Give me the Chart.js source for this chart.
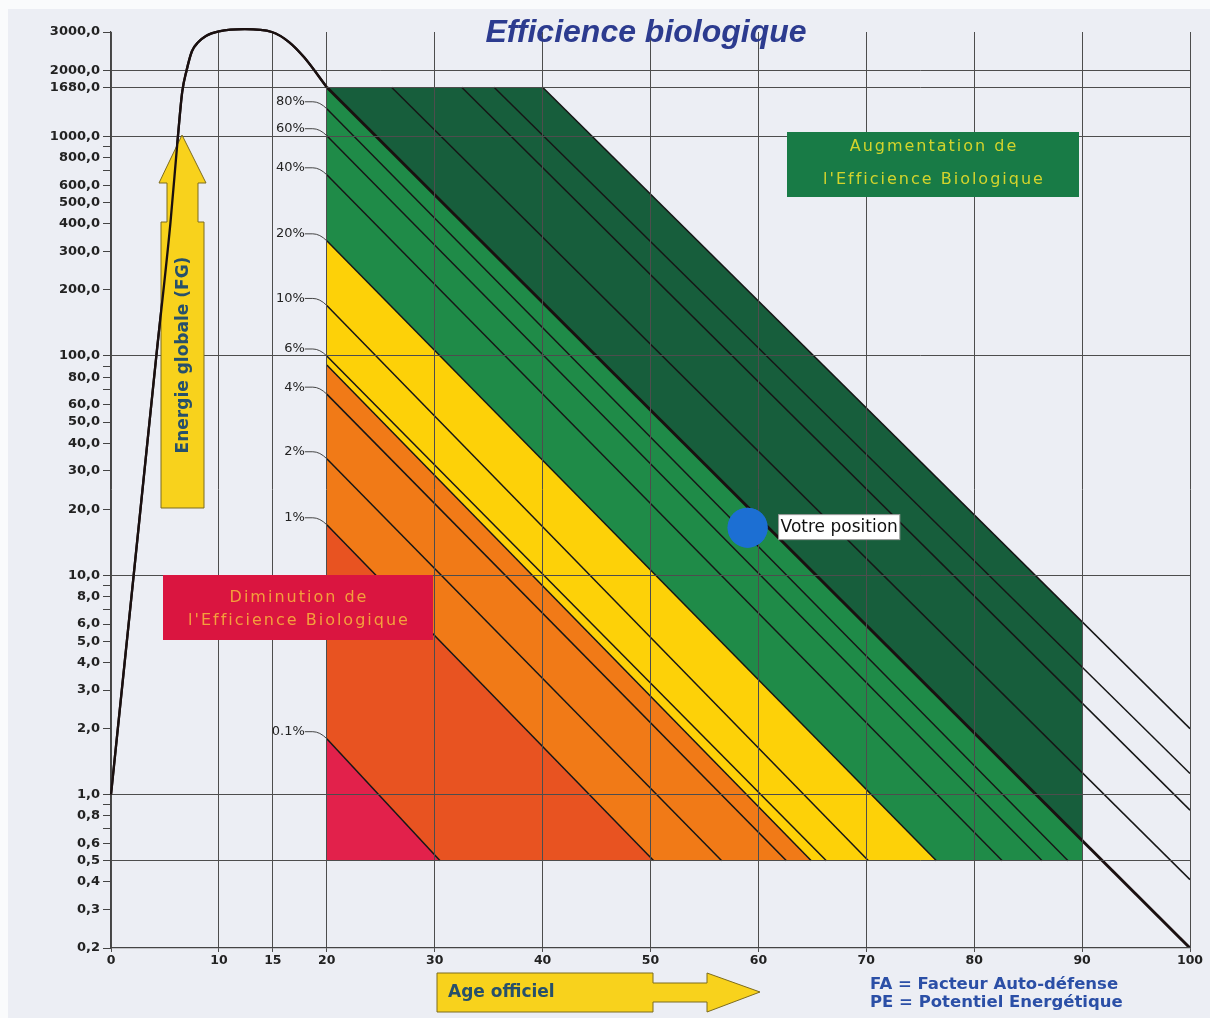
<!DOCTYPE html>
<html lang="fr">
<head>
    <meta charset="UTF-8">
    <title>Efficience biologique</title>
    <script src="https://cdn.jsdelivr.net/npm/chart.js@4"></script>
    <style>
        html, body { margin: 0; padding: 0; background: #ffffff; }
        .chart-container { position: relative; width: 1210px; height: 1018px; }
    </style>
</head>
<body>
<div class="chart-container">
    <canvas id="efficienceChart"></canvas>
</div>
<script>
// --- Axes ---
const xTicks = [0, 10, 15, 20, 30, 40, 50, 60, 70, 80, 90, 100];
const yTickLabels = [0.2, 0.3, 0.4, 0.5, 0.6, 0.8, 1, 2, 3, 4, 5, 6, 8, 10, 20, 30, 40, 50, 60, 80,
                     100, 200, 300, 400, 500, 600, 800, 1000, 1680, 2000, 3000];
const yMinorTicks = [0.7, 0.9, 7, 9, 70, 90, 700, 900];
const yGridValues = [0.5, 1, 10, 100, 1000, 1680, 2000];

// --- Courbe d'énergie globale (âge -> énergie) ---
const curveAges   = [0, 2.1, 4.2, 5.5, 6.2, 6.6, 7.0, 7.5, 8.1, 8.8, 10.0, 12.4, 14.9, 16.5, 17.9, 20];
const curveValues = [1, 10, 100, 400, 1000, 1600, 2000, 2450, 2700, 2880, 3020, 3090, 3000, 2700, 2300, 1680];
const declineAges   = [20, 100];
const declineValues = [1680, 0.2];

// --- Droites au-dessus de la courbe (partent de 1680, finissent à 100 ans) ---
const upperStartAges  = [26, 32.5, 35.5, 40];
const upperEndValues  = [0.41, 0.85, 1.25, 2.0];

// --- Droites des pourcentages (valeur à 20 ans, âge où elles atteignent 0,5) ---
const pctLabels      = ['80%', '60%', '40%', '20%', '10%', '6%', '4%', '2%', '1%', '0.1%'];
const pctStartValues = [1340, 1010, 670, 335, 170, 100, 67, 34, 17, 1.8];
const pctEndAges     = [88.7, 86.3, 82.6, 76.5, 70.2, 66.3, 62.6, 56.6, 50.3, 30.5];

// limite jaune / orange (sans étiquette)
const limitStartValue = 91;
const limitEndAge = 64.9;

// --- Zones colorées (polygones âge / énergie) ---
const zoneNames = ['vert foncé', 'vert', 'jaune', 'orange', 'rouge orangé', 'rouge'];
const zoneColors = ['#175e3c', '#1f8b48', '#fdd108', '#f17a17', '#e85321', '#e2214b'];
const zonePolygons = [
    [[20, 1680], [40, 1680], [90, 6.15], [90, 0.62], [20, 1680]],
    [[20, 1680], [90, 0.62], [90, 0.5], [76.5, 0.5], [20, 335], [20, 1680]],
    [[20, 335], [76.5, 0.5], [64.9, 0.5], [20, 91], [20, 335]],
    [[20, 91], [64.9, 0.5], [50.3, 0.5], [20, 17], [20, 91]],
    [[20, 17], [50.3, 0.5], [30.5, 0.5], [20, 1.8], [20, 17]],
    [[20, 1.8], [30.5, 0.5], [20, 0.5], [20, 1.8]]
];

// --- Position ---
const positionAge = 59;
const positionValue = 16.5;

// --- Construction des datasets ---
const toPoints = (xs, ys) => xs.map((x, i) => ({ x: x, y: ys[i] }));

const datasets = [];

zonePolygons.forEach((poly, i) => {
    datasets.push({
        label: zoneNames[i],
        data: poly.map(p => ({ x: p[0], y: p[1] })),
        fill: 'shape',
        backgroundColor: zoneColors[i],
        borderColor: 'rgba(0,0,0,0)',
        borderWidth: 1,
        pointRadius: 0,
        tension: 0,
        order: 5
    });
});

const thinLine = (pts) => ({
    data: pts,
    borderColor: '#161616',
    borderWidth: 1.5,
    pointRadius: 0,
    fill: false,
    tension: 0,
    order: 3
});

upperStartAges.forEach((a, i) => {
    datasets.push(thinLine([{ x: a, y: 1680 }, { x: 100, y: upperEndValues[i] }]));
});
pctStartValues.forEach((v, i) => {
    datasets.push(thinLine([{ x: 20, y: v }, { x: pctEndAges[i], y: 0.5 }]));
});
datasets.push(thinLine([{ x: 20, y: limitStartValue }, { x: limitEndAge, y: 0.5 }]));

const curveIndex = datasets.length;
datasets.push({
    data: toPoints(curveAges, curveValues),
    borderColor: '#1a1010',
    borderWidth: 2.3,
    pointRadius: 0,
    fill: false,
    cubicInterpolationMode: 'monotone',
    clip: false,
    order: 2
});
datasets.push({
    data: toPoints(declineAges, declineValues),
    borderColor: '#1a1010',
    borderWidth: 3,
    pointRadius: 0,
    fill: false,
    tension: 0,
    order: 2
});

const dotIndex = datasets.length;
datasets.push({
    data: [{ x: positionAge, y: positionValue }],
    showLine: false,
    pointRadius: 20,
    pointBackgroundColor: '#1c6fd3',
    pointBorderWidth: 0,
    order: 1
});

// --- Décor : flèches, cadres, étiquettes ---
const decorPlugin = {
    id: 'decor',
    beforeDraw(chart) {
        const { ctx, width, height } = chart;
        ctx.save();
        ctx.fillStyle = '#fafbfc';
        ctx.fillRect(0, 0, width, height);
        ctx.fillStyle = '#eceef4';
        ctx.fillRect(8, 9, width - 8, height - 9);
        ctx.restore();
    },
    afterDraw(chart) {
        const { ctx } = chart;
        const xs = chart.scales.x, ys = chart.scales.y;
        ctx.save();

        // flèche verticale "Energie globale (FG)"
        ctx.beginPath();
        ctx.moveTo(182, 135);
        ctx.lineTo(206, 183); ctx.lineTo(198, 183); ctx.lineTo(198, 222);
        ctx.lineTo(204, 222); ctx.lineTo(204, 508); ctx.lineTo(161, 508);
        ctx.lineTo(161, 222); ctx.lineTo(167, 222); ctx.lineTo(167, 183);
        ctx.lineTo(159, 183);
        ctx.closePath();
        ctx.fillStyle = '#f8d21c';
        ctx.fill();
        ctx.strokeStyle = '#7d6c1e';
        ctx.lineWidth = 1;
        ctx.stroke();

        ctx.save();
        ctx.translate(184, 355);
        ctx.rotate(-Math.PI / 2);
        ctx.font = 'bold 17px "DejaVu Sans", sans-serif';
        ctx.fillStyle = '#27506b';
        ctx.textAlign = 'center';
        ctx.textBaseline = 'middle';
        ctx.fillText('Energie globale (FG)', 0, 0);
        ctx.restore();

        // flèche horizontale "Age officiel"
        ctx.beginPath();
        ctx.moveTo(437, 973); ctx.lineTo(653, 973); ctx.lineTo(653, 983);
        ctx.lineTo(707, 983); ctx.lineTo(707, 973); ctx.lineTo(760, 992);
        ctx.lineTo(707, 1012); ctx.lineTo(707, 1002); ctx.lineTo(653, 1002);
        ctx.lineTo(653, 1012); ctx.lineTo(437, 1012);
        ctx.closePath();
        ctx.fillStyle = '#f8d21c';
        ctx.fill();
        ctx.strokeStyle = '#7d6c1e';
        ctx.stroke();
        ctx.font = 'bold 17px "DejaVu Sans", sans-serif';
        ctx.fillStyle = '#27506b';
        ctx.textAlign = 'left';
        ctx.textBaseline = 'middle';
        ctx.fillText('Age officiel', 448, 993);

        // la courbe passe par-dessus la flèche
        chart.getDatasetMeta(curveIndex).controller.draw();

        // cadre vert
        ctx.fillStyle = '#187b46';
        ctx.fillRect(787, 132, 292, 65);
        ctx.font = '16px "DejaVu Sans", sans-serif';
        ctx.letterSpacing = '2px';
        ctx.fillStyle = '#d3d42c';
        ctx.textAlign = 'center';
        ctx.fillText('Augmentation de', 934, 147);
        ctx.fillText("l'Efficience Biologique", 934, 180);

        // cadre rouge
        ctx.fillStyle = '#da1540';
        ctx.fillRect(163, 575, 270, 65);
        ctx.fillStyle = '#f3a03c';
        ctx.fillText('Diminution de', 299, 598);
        ctx.fillText("l'Efficience Biologique", 299, 621);
        ctx.letterSpacing = '0px';

        // étiquettes des pourcentages
        const x20 = xs.getPixelForValue(20);
        ctx.font = '13px "DejaVu Sans", sans-serif';
        ctx.fillStyle = '#222';
        ctx.strokeStyle = '#444';
        ctx.lineWidth = 1;
        ctx.textAlign = 'right';
        pctLabels.forEach((lab, i) => {
            const py = ys.getPixelForValue(pctStartValues[i]);
            const ly = py - 7;
            ctx.fillText(lab, x20 - 22, ly);
            ctx.beginPath();
            ctx.moveTo(x20 - 22, ly);
            ctx.lineTo(x20 - 14, ly);
            ctx.quadraticCurveTo(x20 - 7, ly, x20, py);
            ctx.stroke();
        });

        // position
        chart.getDatasetMeta(dotIndex).controller.draw();
        const px = xs.getPixelForValue(positionAge), pyDot = ys.getPixelForValue(positionValue);
        ctx.font = '17px "DejaVu Sans", sans-serif';
        const label = 'Votre position';
        const w = ctx.measureText(label).width + 4;
        ctx.fillStyle = '#ffffff';
        ctx.fillRect(px + 31, pyDot - 13, w, 25);
        ctx.strokeStyle = '#9a9a9a';
        ctx.strokeRect(px + 31, pyDot - 13, w, 25);
        ctx.fillStyle = '#111';
        ctx.textAlign = 'left';
        ctx.fillText(label, px + 33, pyDot);

        // titre
        ctx.font = 'italic bold 32px "Liberation Sans", Arial, sans-serif';
        ctx.fillStyle = '#2c3b8f';
        ctx.textAlign = 'center';
        ctx.fillText('Efficience biologique', 646, 33);

        // légende FA / PE
        ctx.font = 'bold 16.5px "DejaVu Sans", sans-serif';
        ctx.fillStyle = '#2b4fa6';
        ctx.textAlign = 'left';
        ctx.fillText('FA = Facteur Auto-défense', 870, 985);
        ctx.fillText('PE = Potentiel Energétique', 870, 1003);

        ctx.restore();
    }
};

const formatValue = v => v.toFixed(1).replace('.', ',');

const ctx = document.getElementById('efficienceChart').getContext('2d');
new Chart(ctx, {
    type: 'line',
    data: { datasets: datasets },
    options: {
        responsive: true,
        maintainAspectRatio: false,
        animation: false,
        events: [],
        layout: { padding: { top: 32, right: 20, left: 0, bottom: 0 } },
        plugins: {
            legend: { display: false },
            tooltip: { enabled: false },
            title: { display: false }
        },
        scales: {
            x: {
                type: 'linear',
                min: 0,
                max: 100,
                afterBuildTicks: scale => { scale.ticks = xTicks.map(v => ({ value: v })); },
                afterFit: scale => { scale.height = 70; },
                grid: { color: '#4d4d4d', lineWidth: 1, tickLength: 4, z: 1 },
                border: { color: '#444', width: 1.2, z: 1 },
                ticks: {
                    autoSkip: false,
                    maxRotation: 0,
                    padding: 1,
                    color: '#222',
                    font: { family: '"DejaVu Sans", sans-serif', weight: 'bold', size: 12.5 },
                    z: 1
                }
            },
            y: {
                type: 'logarithmic',
                min: 0.2,
                max: 3000,
                afterBuildTicks: scale => {
                    const all = yTickLabels.concat(yMinorTicks).sort((a, b) => a - b);
                    scale.ticks = all.map(v => ({ value: v }));
                },
                afterFit: scale => { scale.width = 111; },
                grid: {
                    color: c => (c.tick && yGridValues.includes(c.tick.value)) ? '#4d4d4d' : 'rgba(0,0,0,0)',
                    tickColor: '#444',
                    lineWidth: 1,
                    tickLength: 8,
                    z: 1
                },
                border: { color: '#444', width: 1.2, z: 1 },
                ticks: {
                    autoSkip: false,
                    padding: 3,
                    color: '#222',
                    font: { family: '"DejaVu Sans", sans-serif', weight: 'bold', size: 13 },
                    callback: value => yTickLabels.includes(value) ? formatValue(value) : '',
                    z: 1
                }
            }
        }
    },
    plugins: [decorPlugin]
});
</script>
</body>
</html>
